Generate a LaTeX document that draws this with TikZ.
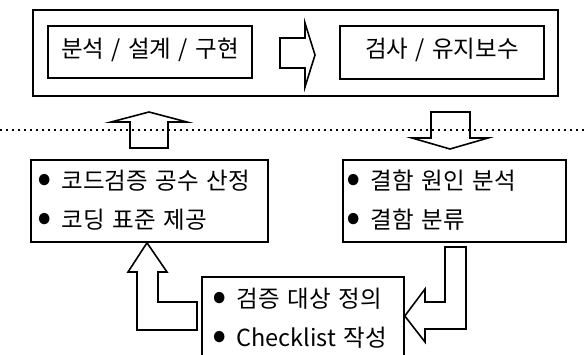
\documentclass[tikz,border=0pt]{standalone}
\usepackage{fontspec}
\usepackage{graphicx}
\setmainfont{Noto Sans CJK KR}[WordSpace=1.4]
\usetikzlibrary{positioning}

\newcommand\dotitem{\raisebox{-3pt}{\scalebox{1.8}{•}}\hspace{10pt}}

\tikzset{
    box/.style={draw, line width=1.6pt, inner sep=0pt},
    phase/.style={box, minimum width=204pt, minimum height=52pt,
        text height=18pt, text depth=8pt},
    list/.style={box, align=left, minimum height=82pt,
        font=\fontsize{23.5}{39}\selectfont},
    blockarrow/.style={draw, line width=1.6pt, line join=miter},
}

\begin{document}
\begin{tikzpicture}[x=1pt, y=-1pt, font=\fontsize{23.5}{26}\selectfont]
    \useasboundingbox (0,0) rectangle (587,354);
    \clip (0,0) rectangle (587,354);
    % development phases
    \node[box, minimum width=525pt, minimum height=86pt] (phases) at (295.5,53) {};
    \node[phase] (design) at (150,52) {분석 / 설계 / 구현};
    \node[phase, minimum height=53pt] (test) at (442,52.5) {검사 / 유지보수};
    \draw[blockarrow] (280,38) -- (305,38) -- (305,23) -- (315,55)
        -- (305,87) -- (305,68) -- (280,68) -- cycle;
    % separator
    \coordinate (sepL) at (0,130);
    \coordinate (sepR) at (587,130);
    \draw[line width=2.2pt, dash pattern=on 2.2pt off 3.8pt] (sepL) -- (sepR);
    \draw[blockarrow] (130,148) -- (130,122) -- (111,122) -- (149,112)
        -- (187,122) -- (168,122) -- (168,148) -- cycle;
    \draw[blockarrow] (431,112) -- (470,112) -- (470,138) -- (488,138)
        -- (450,149) -- (412,138) -- (431,138) -- cycle;
    % inspection activities
    \node[list, text width=225pt, inner xsep=6pt] (cost) at (149.5,201)
        {\dotitem 코드검증 공수 산정\\\dotitem 코딩 표준 제공};
    \node[list, text width=217pt, inner xsep=3pt] (defect) at (454.5,201)
        {\dotitem 결함 원인 분석\\\dotitem 결함 분류};
    \node[list, text width=182pt, inner xsep=10pt, minimum height=83pt] (check) at (303,318.5)
        {\dotitem 검증 대상 정의\\\dotitem Checklist 작성};
    \draw[blockarrow] (cost.south -| 147,0) -- (167,272) -- (158,272) -- (158,302)
        -- (197,302) -- (197,330) -- (137,330) -- (137,272) -- (128,272) -- cycle;
    \draw[blockarrow] (check.east |- 0,316) -- (425,289) -- (425,302) -- (445,302)
        -- (445,247) -- (466,247) -- (466,329) -- (425,329) -- (425,342) -- cycle;
\end{tikzpicture}
\end{document}
